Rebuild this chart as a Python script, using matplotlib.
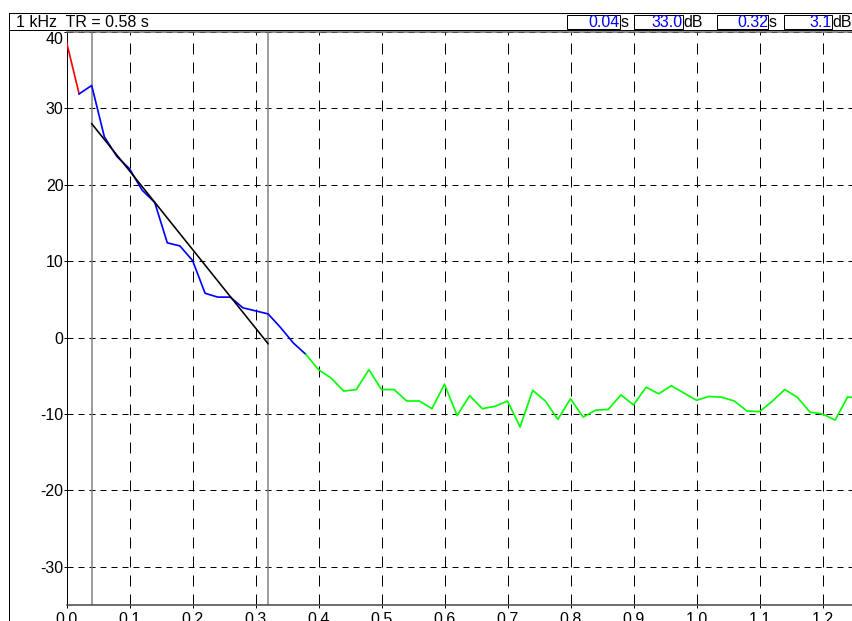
import numpy as np
import matplotlib
matplotlib.use("Agg")
import matplotlib.pyplot as plt
from matplotlib.patches import Rectangle
from matplotlib.ticker import FormatStrFormatter

plt.rcParams['font.family'] = ['Liberation Sans', 'DejaVu Sans']
plt.rcParams['axes.unicode_minus'] = False

# Decay curve (energy level in dB vs time in s), 1 kHz band
times = [0.00, 0.02, 0.04, 0.06, 0.08, 0.10, 0.12, 0.14, 0.16, 0.18,
         0.20, 0.22, 0.24, 0.26, 0.28, 0.30, 0.32, 0.34, 0.36, 0.38,
         0.40, 0.42, 0.44, 0.46, 0.48, 0.50, 0.52, 0.54, 0.56, 0.58,
         0.60, 0.62, 0.64, 0.66, 0.68, 0.70, 0.72, 0.74, 0.76, 0.78,
         0.80, 0.82, 0.84, 0.86, 0.88, 0.90, 0.92, 0.94, 0.96, 0.98,
         1.00, 1.02, 1.04, 1.06, 1.08, 1.10, 1.12, 1.14, 1.16, 1.18,
         1.20, 1.22, 1.24, 1.26]
level_db = [38.7, 31.9, 33.0, 26.3, 23.7, 22.1, 19.3, 17.7, 12.4, 12.0,
            10.1, 5.8, 5.3, 5.3, 3.9, 3.5, 3.1, 1.3, -0.7, -2.2,
            -4.2, -5.3, -7.0, -6.8, -4.2, -6.8, -6.8, -8.3, -8.3, -9.3,
            -6.1, -10.2, -7.6, -9.3, -9.0, -8.3, -11.7, -6.9, -8.3, -10.7,
            -8.0, -10.4, -9.5, -9.4, -7.5, -8.8, -6.5, -7.35, -6.3, -7.25,
            -8.2, -7.7, -7.8, -8.3, -9.6, -9.7, -8.35, -6.8, -7.8, -9.75,
            -10.0, -10.8, -7.75, -8.0]

# Segment boundaries (indices): direct sound, evaluation range, noise floor
i_start, i_end, i_noise = 1, 19, 19
# Evaluation cursors
i_cur0, i_cur1 = 2, 16
# Linear regression line over the evaluation range
fit_t = [0.04, 0.32]
fit_db = [28.0, -0.8]

x_ticks = [0.0, 0.1, 0.2, 0.3, 0.4, 0.5, 0.6, 0.7, 0.8, 0.9, 1.0, 1.1, 1.2]
y_ticks = [-30, -20, -10, 0, 10, 20, 30, 40]

t = np.array(times)
L = np.array(level_db)
slope = (fit_db[1] - fit_db[0]) / (fit_t[1] - fit_t[0])
tr = -60.0 / slope

W, H = 852, 621
fig = plt.figure(figsize=(W / 72, H / 72), dpi=72)
fig.patch.set_facecolor('white')

x0, ytop, ybot = 66.5, 32.0, 605.0
ax = fig.add_axes([x0 / W, (H - ybot) / H, (W - x0) / W, (ybot - ytop) / H])
ax.set_xlim(0, (W - x0) / 630.0)
ax.set_ylim(-35, 40)

ax.set_xticks(x_ticks)
ax.set_yticks(y_ticks)
ax.xaxis.set_major_formatter(FormatStrFormatter('%.1f'))
ax.yaxis.set_major_formatter(FormatStrFormatter('%d'))

ax.yaxis.grid(True, color='black', lw=1, linestyle=(0, (6, 5)))
ax.xaxis.grid(True, color='black', lw=1, linestyle=(0, (11, 8)))
ax.set_axisbelow(True)

ax.tick_params(axis='y', direction='out', length=3, width=1, pad=0,
               labelsize=16, colors='black')
ax.tick_params(axis='x', direction='out', length=3, width=1, pad=4,
               labelsize=16, colors='black')

# Keep the top y label inside the plot frame
fig.canvas.draw()
ax.get_yticklabels()[-1].set_verticalalignment('top')

ax.spines['right'].set_visible(False)
ax.spines['top'].set_color('#6a6a6a')
ax.spines['top'].set_linewidth(1.5)
ax.spines['left'].set_color('black')
ax.spines['left'].set_linewidth(1)
ax.spines['bottom'].set_color('#404040')
ax.spines['bottom'].set_linewidth(1.5)

# Cursor lines
ax.axvline(t[i_cur0], color='#808080', lw=1.5, zorder=2)
ax.axvline(t[i_cur1], color='#808080', lw=1.5, zorder=2)

# Decay curve segments
ax.plot(t[:i_start + 1], L[:i_start + 1], color='#ff0000', lw=1.7, zorder=3)
ax.plot(t[i_start:i_end + 1], L[i_start:i_end + 1], color='#0000ff', lw=1.7, zorder=3)
ax.plot(t[i_noise:], L[i_noise:], color='#00ff00', lw=1.7, zorder=3)

# Regression line
ax.plot(fit_t, fit_db, color='black', lw=1.6, zorder=4)

# Header strip and outer frame, in pixel coordinates
ov = fig.add_axes([0, 0, 1, 1], zorder=5)
ov.set_xlim(0, W)
ov.set_ylim(H, 0)
ov.axis('off')
ov.patch.set_alpha(0)

ov.plot([8.5, 8.5], [12.5, H], color='black', lw=1)
ov.plot([8.5, W], [12.5, 12.5], color='black', lw=1)
ov.plot([8.5, W], [29.5, 29.5], color='black', lw=1)

ov.text(15.5, 27.3, f"1 kHz  TR = {tr:.2f} s", fontsize=16, color='black',
        ha='left', va='baseline')

fields = [
    (567, 620, f"{t[i_cur0]:.2f}", "s"),
    (634, 683, f"{L[i_cur0]:.1f}", "dB"),
    (717, 768, f"{t[i_cur1]:.2f}", "s"),
    (784, 832, f"{L[i_cur1]:.1f}", "dB"),
]
for xa, xb, num, unit in fields:
    ov.add_patch(Rectangle((xa, 14.5), xb - xa, 14, fill=False,
                           edgecolor='black', lw=1))
    ov.text(xb, 27.3, num, fontsize=16, color='#0000ff', ha='right', va='baseline')
    ov.text(xb + 0.5, 27.3, unit, fontsize=16, color='black', ha='left', va='baseline')

fig.savefig('out.png', dpi=72, facecolor='white')
